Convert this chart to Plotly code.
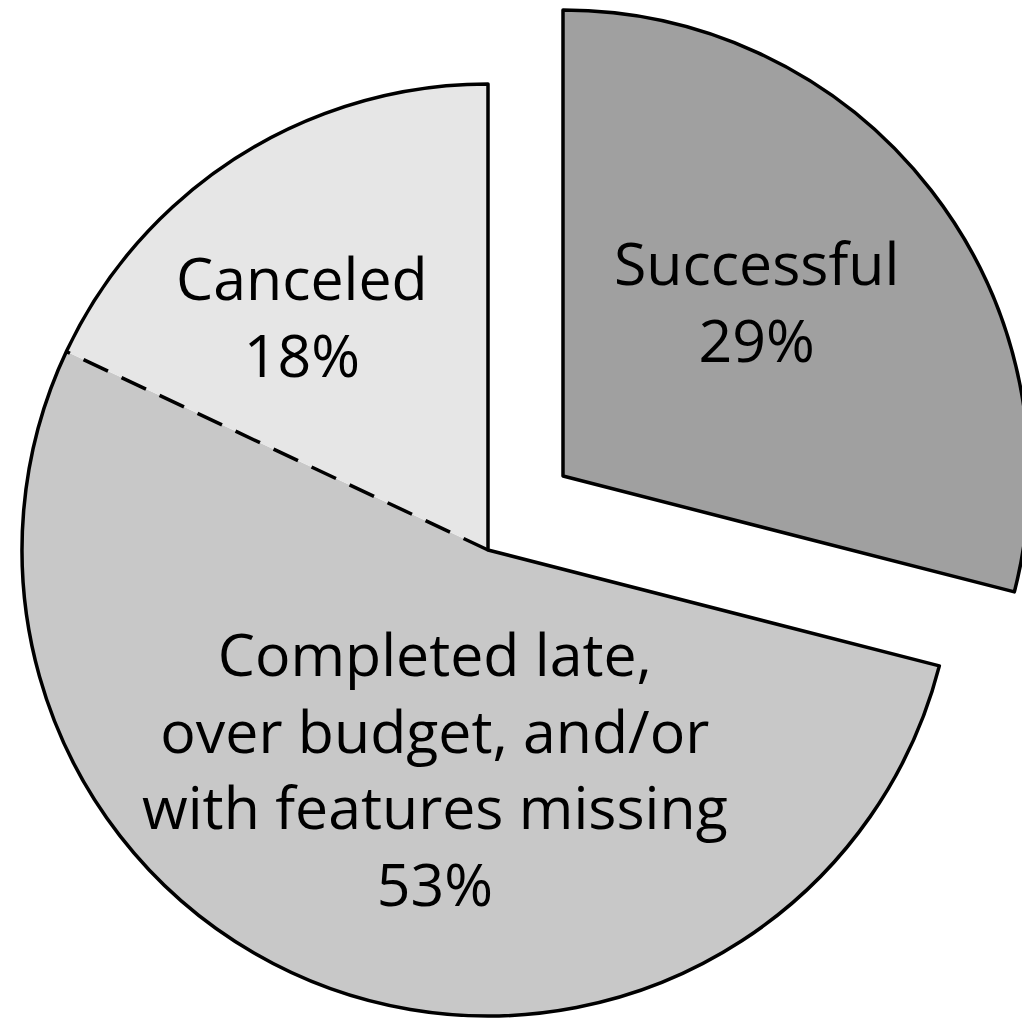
import math
import plotly.graph_objects as go

# ---- data ----
categories = ["Successful", "Completed late, over budget, and/or with features missing", "Canceled"]
label_text = ["Successful", "Completed late,<br>over budget, and/or<br>with features missing", "Canceled"]
values = [29, 53, 18]

# ---- layout / style ----
PAGE_OFF = 8                 # default body margin of the html page
W, H = 1030 - PAGE_OFF, 1018 - PAGE_OFF
fills = ["#a0a0a0", "#c8c8c8", "#e6e6e6"]
LINE_W = 3.5
R = 466                      # pie radius in px
main_c = (488 - PAGE_OFF, 550 - PAGE_OFF)      # centre of main pie
explode_c = (563 - PAGE_OFF, 476 - PAGE_OFF)   # centre of pulled-out slice
FONT = dict(family="Open Sans", size=59, color="black")
label_anchor = [(756, 300), (435, 768), (302, 315)]  # label block centres (page px)


def domain(c):
    cx, cy = c
    return dict(x=[max(0, (cx - R) / W), min(1, (cx + R) / W)],
                y=[max(0, (H - cy - R) / H), min(1, (H - cy + R) / H)])


total = sum(values)
common = dict(sort=False, direction="clockwise", rotation=0, textinfo="none",
              hoverinfo="skip", showlegend=False)

fig = go.Figure()

# filled slices of the main pie (Successful hidden here)
fig.add_trace(go.Pie(
    values=values, labels=categories, domain=domain(main_c),
    marker=dict(colors=["rgba(0,0,0,0)", fills[1], fills[2]],
                line=dict(width=0)), **common))

# solid outline around Completed + Canceled together
fig.add_trace(go.Pie(
    values=[values[0], values[1] + values[2]],
    labels=["a", "b"], domain=domain(main_c),
    marker=dict(colors=["rgba(0,0,0,0)", "rgba(0,0,0,0)"],
                line=dict(color="black", width=[0, LINE_W])), **common))

# pulled-out Successful slice
fig.add_trace(go.Pie(
    values=values, labels=categories, domain=domain(explode_c),
    marker=dict(colors=[fills[0], "rgba(0,0,0,0)", "rgba(0,0,0,0)"],
                line=dict(color="black", width=[LINE_W, 0, 0])), **common))

# dashed border between Completed and Canceled
ang = math.radians(360 * (values[0] + values[1]) / total)
cx, cy = main_c
ex = cx + R * math.sin(ang)
ey = cy - R * math.cos(ang)
fig.add_shape(type="line", xref="paper", yref="paper",
              x0=cx / W, y0=1 - cy / H, x1=ex / W, y1=1 - ey / H,
              line=dict(color="black", width=LINE_W, dash="27px,15px"),
              layer="above")

# labels
for i, txt in enumerate(label_text):
    ax, ay = label_anchor[i]
    fig.add_annotation(text=f"{txt}<br>{values[i]}%",
                       x=(ax - PAGE_OFF) / W, y=1 - (ay - PAGE_OFF) / H,
                       xref="paper", yref="paper", showarrow=False,
                       xanchor="center", yanchor="middle", align="center",
                       font=FONT)

fig.update_layout(width=W, height=H, margin=dict(l=0, r=0, t=0, b=0),
                  paper_bgcolor="white", plot_bgcolor="white", hovermode=False)

fig.write_html("out.html")
